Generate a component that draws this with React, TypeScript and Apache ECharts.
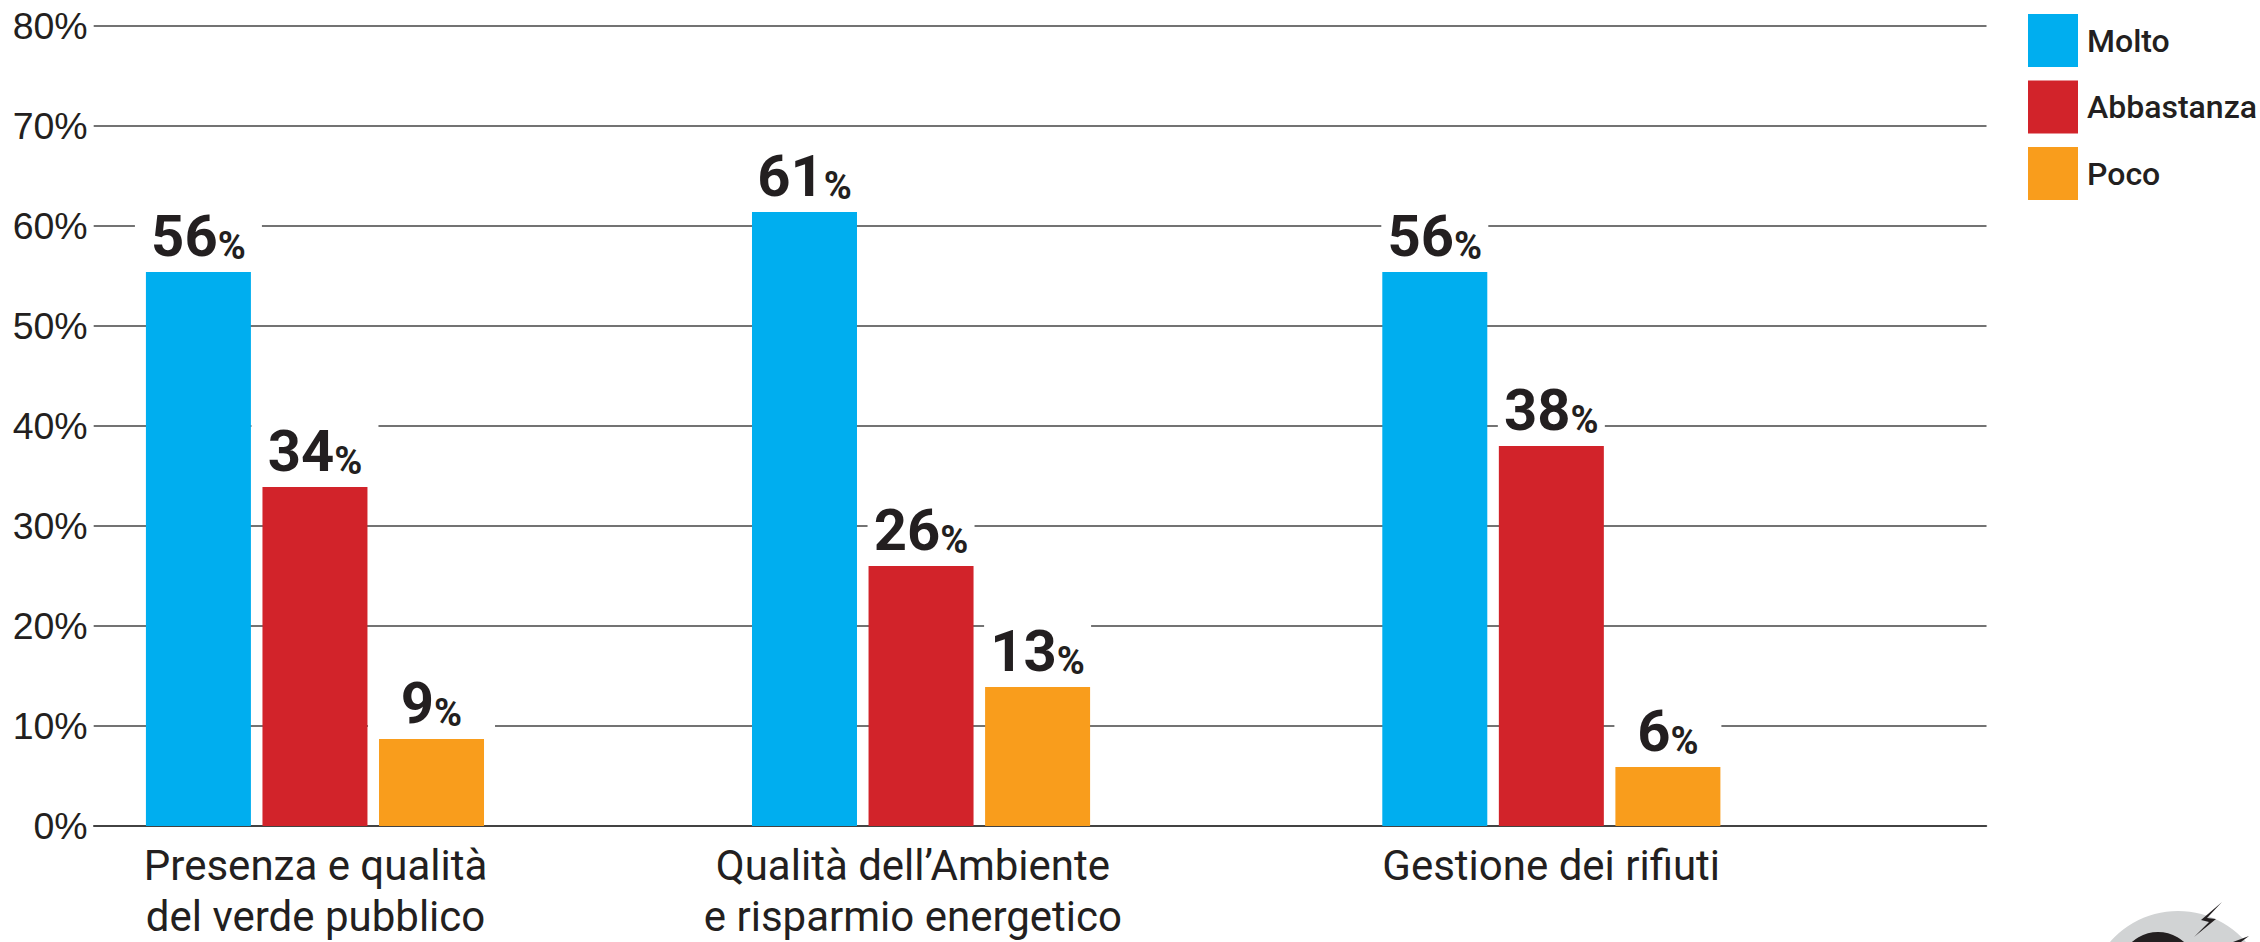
import React, { useEffect, useRef } from "react";
import * as echarts from "echarts";

const categories = ["Presenza e qualità\ndel verde pubblico", "Qualità dell’Ambiente\ne risparmio energetico", "Gestione dei rifiuti\n "];
const seriesNames = ["Molto", "Abbastanza", "Poco"];
const molto = [55.4, 61.4, 55.4];
const abbastanza = [33.9, 26, 38];
const poco = [8.7, 13.9, 5.9];
const moltoLabels = [56, 61, 56];
const abbastanzaLabels = [34, 26, 38];
const pocoLabels = [9, 13, 6];
const yTicks = [0, 10, 20, 30, 40, 50, 60, 70, 80];

// The groups are unevenly spaced in the source: share of the axis width (0-100).
const GROUP_AT = [11.69, 43.71, 77.01];
const LABEL_AT = [11.72, 43.28, 77.0];
const LABEL_BG_WIDTH = [127, 107, 107];
const COLORS = ["#00aeef", "#d2232a", "#f99d1c"];
const INK = "#231f20";
const NARROW = 'Roboto, "Liberation Sans", sans-serif';

const valueSets = [molto, abbastanza, poco];
const labelSets = [moltoLabels, abbastanzaLabels, pocoLabels];

export default function App() {
  const ref = useRef<HTMLDivElement>(null);
  useEffect(() => {
    document.body.style.margin = "0";
    const chart = echarts.init(ref.current!, null, { renderer: "svg" });
    chart.setOption({
      animation: false,
      backgroundColor: "#ffffff",
      grid: { left: 93.7, right: 273.5, top: 26, bottom: 114.5, containLabel: false },
      legend: {
        orient: "vertical",
        left: 2028,
        top: 14,
        padding: 0,
        itemWidth: 50,
        itemHeight: 53,
        itemGap: 13.5,
        icon: "rect",
        selectedMode: false,
        data: seriesNames,
        textStyle: { fontFamily: NARROW, fontSize: 32, fontWeight: 500, color: INK, padding: [0, 0, 9, 4] },
      },
      xAxis: {
        type: "value",
        min: 0,
        max: 100,
        splitLine: { show: false },
        axisTick: { show: false },
        axisLine: { show: true, onZero: true, lineStyle: { color: "#333333", width: 1.5 } },
        axisLabel: {
          customValues: LABEL_AT,
          formatter: (v: number) => categories[LABEL_AT.indexOf(v)] ?? "",
          fontFamily: NARROW,
          fontSize: 42,
          lineHeight: 51,
          color: INK,
          margin: 14,
          verticalAlign: "top",
        },
      },
      yAxis: {
        type: "value",
        min: 0,
        max: 80,
        interval: 10,
        axisLine: { show: false },
        axisTick: { show: false },
        splitLine: { show: true, lineStyle: { color: "#444444", width: 1.5 } },
        axisLabel: {
          customValues: yTicks,
          formatter: "{value}%",
          fontFamily: '"Liberation Sans", sans-serif',
          fontSize: 37.5,
          color: INK,
          margin: 6,
        },
      },
      series: seriesNames.map((name, s) => ({
        name,
        type: "bar",
        barWidth: 105,
        barGap: "11%",
        itemStyle: { color: COLORS[s] },
        data: valueSets[s].map((v, i) => ({ value: [GROUP_AT[i], v], label: { width: LABEL_BG_WIDTH[i] } })),
        z: 3,
        label: {
          show: true,
          position: "top",
          distance: 0,
          backgroundColor: "#ffffff",
          height: 60,
          padding: [0, 0, 7, 0],
          align: "center",
          verticalAlign: "bottom",
          formatter: (p: any) => `{n|${labelSets[s][p.dataIndex]}}{p|%}`,
          rich: {
            n: { fontFamily: NARROW, fontWeight: "bold", fontSize: 58, color: INK, lineHeight: 60, verticalAlign: "bottom" },
            p: { fontFamily: NARROW, fontWeight: "bold", fontSize: 38, color: INK, lineHeight: 50, verticalAlign: "bottom" },
          },
        },
      })),
      graphic: [
        { type: "circle", silent: true, shape: { cx: 2178, cy: 1001, r: 90 }, style: { fill: "#d1d3d4" } },
        { type: "circle", silent: true, shape: { cx: 2158, cy: 971, r: 39 }, style: { fill: "#231f20" } },
        {
          type: "polygon",
          silent: true,
          shape: { points: [[2222, 902], [2201, 920], [2209, 922], [2194, 937], [2216, 919], [2207, 918]] },
          style: { fill: "#231f20" },
        },
        {
          type: "polygon",
          silent: true,
          shape: { points: [[2249, 936], [2233, 942], [2241, 942]] },
          style: { fill: "#231f20" },
        },
      ],
    });
    return () => chart.dispose();
  }, []);
  return <div ref={ref} style={{ position: "absolute", left: 0, top: 0, width: 2260, height: 942 }} />;
}
